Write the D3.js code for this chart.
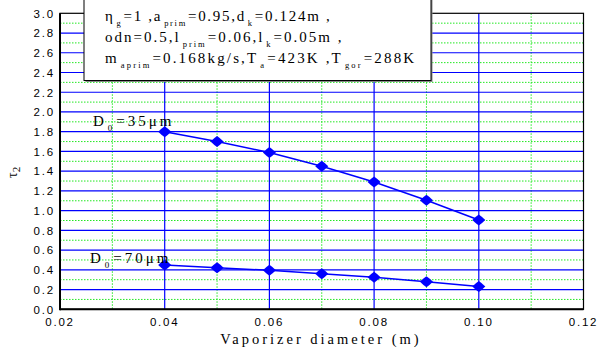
<!DOCTYPE html>
<html><head><meta charset="utf-8">
<script src="https://cdn.jsdelivr.net/npm/d3@7"></script>
<style>body{margin:0;background:#fff}svg{display:block}</style>
</head><body>
<script>
const xValues = [0.04, 0.05, 0.06, 0.07, 0.08, 0.09, 0.10];
const series35 = [1.80, 1.70, 1.59, 1.45, 1.29, 1.105, 0.905];
const series70 = [0.45, 0.42, 0.395, 0.36, 0.325, 0.278, 0.23];
const xTicks = [0.02, 0.04, 0.06, 0.08, 0.10, 0.12];
const xMinor = [0.03, 0.05, 0.07, 0.09, 0.11];
const yTicks = d3.range(0, 31, 2).map(d => d / 10);
const yMinor = d3.range(1, 30, 2).map(d => d / 10);

const W = 597, H = 349;
const L = 60, R = 583.5, T = 13.3, B = 309.3;
const svg = d3.select("body").append("svg").attr("width", W).attr("height", H);
const x = d3.scaleLinear().domain([0.02, 0.12]).range([L, R]);
const y = d3.scaleLinear().domain([0, 3]).range([B, T]);

const blue = "#0000ff";
const g = svg.append("g");
g.selectAll(".ym").data(yMinor).join("line")
  .attr("x1", L).attr("x2", R).attr("y1", d => y(d)).attr("y2", d => y(d))
  .attr("stroke", "#22e822").attr("stroke-width", 1).attr("stroke-dasharray", "1.5,1.5");
g.selectAll(".xm").data(xMinor).join("line")
  .attr("y1", T).attr("y2", B).attr("x1", d => x(d)).attr("x2", d => x(d))
  .attr("stroke", "#22e822").attr("stroke-width", 1).attr("stroke-dasharray", "1.5,1.5");
g.selectAll(".yM").data(yTicks.filter(d => d > 0 && d < 3)).join("line")
  .attr("x1", L).attr("x2", R).attr("y1", d => y(d)).attr("y2", d => y(d))
  .attr("stroke", blue).attr("stroke-width", 1.2);
g.selectAll(".xM").data(xTicks.filter(d => d > 0.02 && d < 0.12)).join("line")
  .attr("y1", T).attr("y2", B).attr("x1", d => x(d)).attr("x2", d => x(d))
  .attr("stroke", blue).attr("stroke-width", 1.2);

svg.append("rect").attr("x", L).attr("y", T).attr("width", R - L).attr("height", B - T)
  .attr("fill", "none").attr("stroke", "#000").attr("stroke-width", 1.2);
svg.append("line").attr("x1", L).attr("x2", L).attr("y1", T).attr("y2", B + 1).attr("stroke", "#000").attr("stroke-width", 2);
svg.append("line").attr("x1", L).attr("x2", R).attr("y1", B).attr("y2", B).attr("stroke", "#000").attr("stroke-width", 2);

const tickFont = "'Liberation Sans', Arial, sans-serif";
svg.selectAll(".yt").data(yTicks).join("text")
  .attr("x", L - 5).attr("y", d => y(d) + 4.3)
  .attr("text-anchor", "end").attr("font-family", tickFont).attr("font-size", 11.5)
  .attr("letter-spacing", 1.8).attr("fill", "#000").text(d => d.toFixed(1));
svg.selectAll(".xt").data(xTicks).join("text")
  .attr("x", d => x(d)).attr("y", 326)
  .attr("text-anchor", "middle").attr("font-family", tickFont).attr("font-size", 11.5)
  .attr("letter-spacing", 1.8).attr("fill", "#000").text(d => d.toFixed(2));

const serif = "'Liberation Serif', 'Times New Roman', serif";
svg.append("text").attr("x", 321).attr("y", 344).attr("text-anchor", "middle")
  .attr("font-family", serif).attr("font-size", 14.5).attr("letter-spacing", 3.0)
  .text("Vaporizer diameter (m)");
const yl = svg.append("text").attr("transform", "translate(17,178) rotate(-90)")
  .attr("font-family", serif).attr("font-size", 14);
yl.append("tspan").text("τ");
yl.append("tspan").attr("font-size", 11).attr("dy", 3).text("2");

const line = d3.line().x(d => x(d[0])).y(d => y(d[1]));
const marker = "M-6.5,0 Q-3,-3.5 0,-5.5 Q3,-3.5 6.5,0 Q3,3.5 0,5.5 Q-3,3.5 -6.5,0 Z";
[series35, series70].forEach(s => {
  const pts = xValues.map((v, i) => [v, s[i]]);
  svg.append("path").attr("d", line(pts)).attr("fill", "none").attr("stroke", blue).attr("stroke-width", 1.5);
  svg.selectAll(null).data(pts).join("path")
    .attr("d", marker).attr("transform", d => `translate(${x(d[0])},${y(d[1])})`).attr("fill", blue);
});

function label(tx, ty, num) {
  const t = svg.append("text").attr("x", tx).attr("y", ty).attr("font-family", serif)
    .attr("font-size", 15).attr("letter-spacing", 3).attr("fill", "#000");
  t.append("tspan").text("D");
  t.append("tspan").attr("font-size", 9).attr("dy", 5).attr("dx", 1).text("0");
  t.append("tspan").attr("dy", -5).attr("dx", 1).text("=" + num + "μm");
}
label(93, 126, "35");
label(90, 263, "70");

svg.append("rect").attr("x", 85.5).attr("y", -3).attr("width", 347).attr("height", 85).attr("fill", "#888");
svg.append("rect").attr("x", 84).attr("y", -3).attr("width", 347).attr("height", 83.5)
  .attr("fill", "#fff").attr("stroke", "#000").attr("stroke-width", 1);

const boxLines = [
  [["η"], ["g", 1], ["=1 ,a"], ["prim", 1], ["=0.95,d"], ["k", 1], ["=0.124m ,"]],
  [["odn=0.5,l"], ["prim", 1], ["=0.06,l"], ["k", 1], ["=0.05m ,"]],
  [["m"], ["aprim", 1], ["=0.168kg/s,T"], ["a", 1], ["=423K ,T"], ["gor", 1], ["=288K"]]
];
const baselines = [21, 42, 63];
const spacings = [1.7, 2.0, 2.15];
boxLines.forEach((parts, i) => {
  const t = svg.append("text").attr("x", 105).attr("y", baselines[i]).attr("font-family", serif)
    .attr("font-size", 15).attr("letter-spacing", spacings[i]).attr("fill", "#000");
  let sub = false;
  parts.forEach(p => {
    const ts = t.append("tspan");
    if (p[1]) { ts.attr("font-size", 8.5).attr("dy", sub ? 0 : 5).attr("dx", 2); sub = true; }
    else { ts.attr("dy", sub ? -5 : 0).attr("dx", sub ? 1 : 0); sub = false; }
    ts.text(p[0]);
  });
});
</script>
</body></html>
